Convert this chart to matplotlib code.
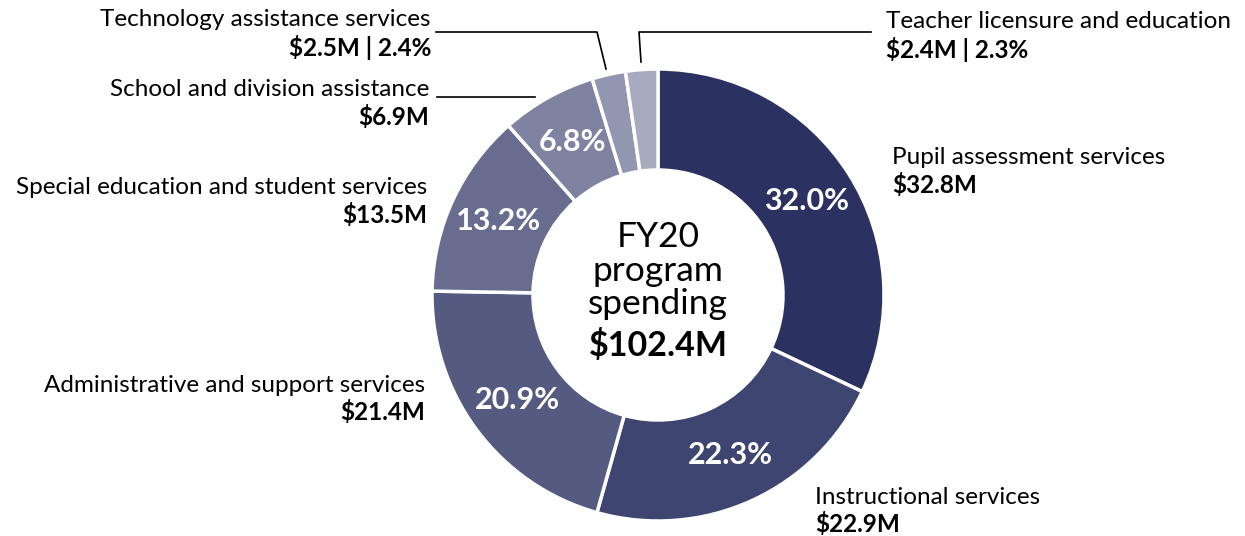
import matplotlib.pyplot as plt
import numpy as np

plt.switch_backend('Agg')
plt.rcParams['font.family'] = ['Lato', 'DejaVu Sans']

programs = ["Pupil assessment services", "Instructional services",
            "Administrative and support services", "Special education and student services",
            "School and division assistance", "Technology assistance services",
            "Teacher licensure and education"]
spending = [32.8, 22.9, 21.4, 13.5, 6.9, 2.5, 2.4]  # $M
shares = [32.0, 22.3, 20.9, 13.2, 6.8, 2.4, 2.3]     # percent
total = "$102.4M"

COLORS = ['#2b3262', '#3f4571', '#545a80', '#686d90', '#7f83a1', '#9396b0', '#a8abc0']

W, H = 1245, 536
fig = plt.figure(figsize=(W / 100, H / 100), dpi=100)
ax = fig.add_axes([0, 0, 1, 1])

cx, cy = 658, H - 295
r_out, r_in = 226, 125

wedges, _ = ax.pie(shares, colors=COLORS, startangle=90, counterclock=False,
                   radius=r_out, center=(cx, cy), frame=True,
                   wedgeprops=dict(width=r_out - r_in, edgecolor='white', linewidth=2.5))
ax.set_xlim(0, W)
ax.set_ylim(0, H)
ax.set_aspect('equal')
ax.axis('off')

# percent labels inside the ring (skip the two thin slices)
r_mid = (r_out + r_in) / 2
for w, s in zip(wedges, shares):
    if s < 5:
        continue
    ang = np.deg2rad((w.theta1 + w.theta2) / 2)
    ax.text(cx + r_mid * np.cos(ang), cy + r_mid * np.sin(ang), f'{s:.1f}%',
            ha='center', va='center', color='white', fontsize=22, fontweight='bold')

# centre text
ax.text(cx, H - 237, 'FY20', ha='center', va='center', fontsize=25.5)
ax.text(cx, H - 271, 'program', ha='center', va='center', fontsize=25.5)
ax.text(cx, H - 304, 'spending', ha='center', va='center', fontsize=25.5)
ax.text(cx, H - 345, total, ha='center', va='center', fontsize=24.5, fontweight='bold')

FS = 17.5
def label(x, y, name, value, ha):
    ax.text(x, H - y, name, ha=ha, va='center', fontsize=FS)
    ax.text(x, H - y - 27, value, ha=ha, va='center', fontsize=FS, fontweight='bold')

label(892, 158, programs[0], f'${spending[0]}M', 'left')
label(815, 497, programs[1], f'${spending[1]}M', 'left')
label(425, 385, programs[2], f'${spending[2]}M', 'right')
label(427, 188, programs[3], f'${spending[3]}M', 'right')
label(429, 90, programs[4], f'${spending[4]}M', 'right')
label(431, 20, programs[5], f'${spending[5]}M | {shares[5]}%', 'right')
label(886, 22, programs[6], f'${spending[6]}M | {shares[6]}%', 'left')

# leader lines
ax.plot([437, 535], [H - 97, H - 97], color='black', lw=1.2)
ax.plot([436, 597, 606], [H - 32, H - 32, H - 69], color='black', lw=1.2)
ax.plot([871, 639, 641], [H - 32, H - 32, H - 62], color='black', lw=1.2)

fig.savefig('out.png', dpi=100, facecolor='white')
